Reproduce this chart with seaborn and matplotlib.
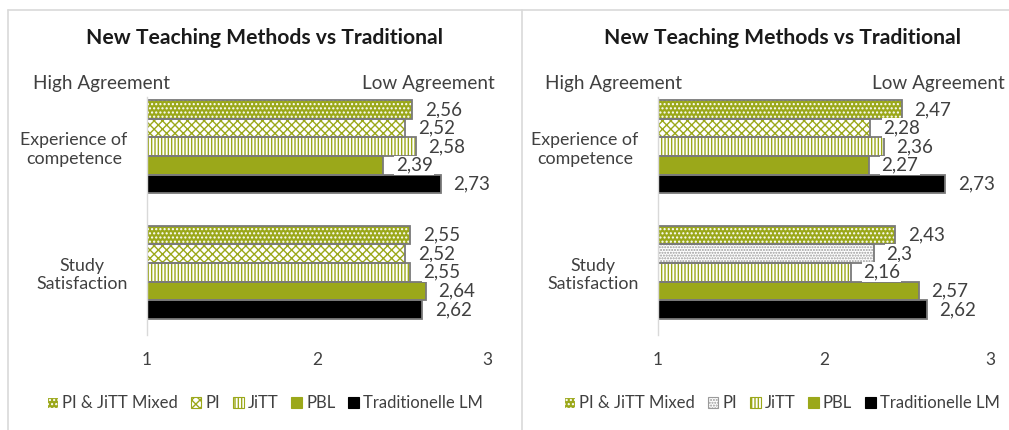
import matplotlib
matplotlib.use("Agg")
import matplotlib.pyplot as plt
from matplotlib.patches import Rectangle, Patch
from matplotlib.lines import Line2D
import seaborn as sns
import pandas as pd

# ---- data ----
methods = ["PI & JiTT Mixed", "PI", "JiTT", "PBL", "Traditionelle LM"]
categories = ["Experience of\ncompetence", "Study\nSatisfaction"]
left_experience = [2.56, 2.52, 2.58, 2.39, 2.73]
left_satisfaction = [2.55, 2.52, 2.55, 2.64, 2.62]
right_experience = [2.47, 2.28, 2.36, 2.27, 2.73]
right_satisfaction = [2.43, 2.30, 2.16, 2.57, 2.62]
title = "New Teaching Methods vs Traditional"
x_ticks = [1, 2, 3]

sns.set_theme(style="white")
plt.rcParams['font.family'] = ['Lato', 'DejaVu Sans']
plt.rcParams['hatch.linewidth'] = 1.0

GREEN = "#9BA81A"
TXT = "#404040"
EDGE = "#7a7a7a"

# style per method: (face, hatch colour, hatch)
styles = {
    "PI & JiTT Mixed": (GREEN, "white", "...."),
    "PI": ("white", GREEN, "xxxx"),
    "JiTT": ("white", GREEN, "|||||"),
    "PBL": (GREEN, GREEN, ""),
    "Traditionelle LM": ("black", "black", ""),
}
gray_pi = ("white", "#9a9a9a", "......")


def make_df(exp, sat):
    rows = []
    for m, v in zip(methods, exp):
        rows.append({"cat": categories[0], "method": m, "value": v})
    for m, v in zip(methods, sat):
        rows.append({"cat": categories[1], "method": m, "value": v})
    return pd.DataFrame(rows)


W, H = 1009, 430
fig = plt.figure(figsize=(W / 100, H / 100), dpi=100)

# panel frames
frame_kw = dict(color="#d9d9d9", lw=1.2, transform=fig.transFigure)
fig.add_artist(Line2D([8 / W, 1], [1 - 10 / H, 1 - 10 / H], **frame_kw))
fig.add_artist(Line2D([8 / W, 8 / W], [0, 1 - 10 / H], **frame_kw))
fig.add_artist(Line2D([522 / W, 522 / W], [0, 1 - 10 / H], **frame_kw))

panels = [
    dict(exp=left_experience, sat=left_satisfaction, ax=[147, 487], center=265,
         hi_x=33, lo_x=495, gray_pi=False),
    dict(exp=right_experience, sat=right_satisfaction, ax=[658, 990], center=782,
         hi_x=545, lo_x=1005, gray_pi=True),
]

for p in panels:
    x0, x1 = p["ax"]
    ax = fig.add_axes([x0 / W, 1 - 335 / H, (x1 - x0) / W, (335 - 84) / H])
    df = make_df(p["exp"], p["sat"])
    sns.barplot(data=df, y="cat", x="value", hue="method", hue_order=methods,
                order=categories, orient="h", width=0.74, ax=ax,
                palette={m: styles[m][0] for m in methods}, legend=False,
                errorbar=None, saturation=1)
    ax.set_xlim(1, 3)
    ax.set_ylim(1.5, -0.5)
    ax.set_xticks(x_ticks)
    ax.set_xticklabels([str(t) for t in x_ticks])
    ax.set_xlabel("")
    ax.set_ylabel("")
    for s in ["top", "right", "bottom"]:
        ax.spines[s].set_visible(False)
    ax.spines["left"].set_color("#d9d9d9")
    ax.spines["left"].set_linewidth(1.0)
    ax.spines["left"].set_bounds(1.5, -0.4)
    ax.tick_params(axis="x", length=0, pad=12, labelsize=12.5, labelcolor=TXT)
    ax.tick_params(axis="y", length=0, pad=14, labelsize=12.8, labelcolor=TXT)
    for lab in ax.get_yticklabels():
        lab.set_multialignment("center")
    ax.patch.set_alpha(0)

    for mi, cont in enumerate(ax.containers[:len(methods)]):
        m = methods[mi]
        for ci, bar in enumerate(cont.patches):
            st = styles[m]
            if m == "PI" and p["gray_pi"] and ci == 1:
                st = gray_pi
            bar.set_facecolor(st[0])
            bar.set_edgecolor(st[1])
            bar.set_hatch(st[2])
            bar.set_linewidth(0)
            ax.add_patch(Rectangle(bar.get_xy(), bar.get_width(), bar.get_height(),
                                   fill=False, edgecolor=EDGE, lw=1.3, zorder=bar.get_zorder() + 0.1))
        vals = [b.get_width() for b in cont.patches]
        ax.bar_label(cont, labels=[f"{v:g}".replace(".", ",") for v in vals],
                     padding=9, fontsize=13.5, color=TXT,
                     bbox=dict(facecolor="white", edgecolor="none", pad=1.0))

    cx = p["center"] / W
    fig.text(cx, 1 - 38 / H, title, ha="center", va="center", fontsize=15.2,
             fontweight="bold", color="#1a1a1a")
    fig.text(p["hi_x"] / W, 1 - 83 / H, "High Agreement", ha="left", va="center",
             fontsize=13.6, color=TXT)
    fig.text(p["lo_x"] / W, 1 - 83 / H, "Low Agreement", ha="right", va="center",
             fontsize=13.6, color=TXT)

    handles = []
    for m in methods:
        st = styles[m]
        if m == "PI" and p["gray_pi"]:
            st = gray_pi
        handles.append(Patch(facecolor=st[0], edgecolor=st[1], hatch=st[2], lw=0.8))
    fig.legend(handles, methods, loc="center", bbox_to_anchor=(cx, 1 - 403 / H),
               ncol=5, frameon=False, fontsize=12, handlelength=0.65, handleheight=0.65,
               handletextpad=0.25, columnspacing=0.75, labelcolor=TXT)

fig.savefig("out.png", dpi=100, facecolor="white")
